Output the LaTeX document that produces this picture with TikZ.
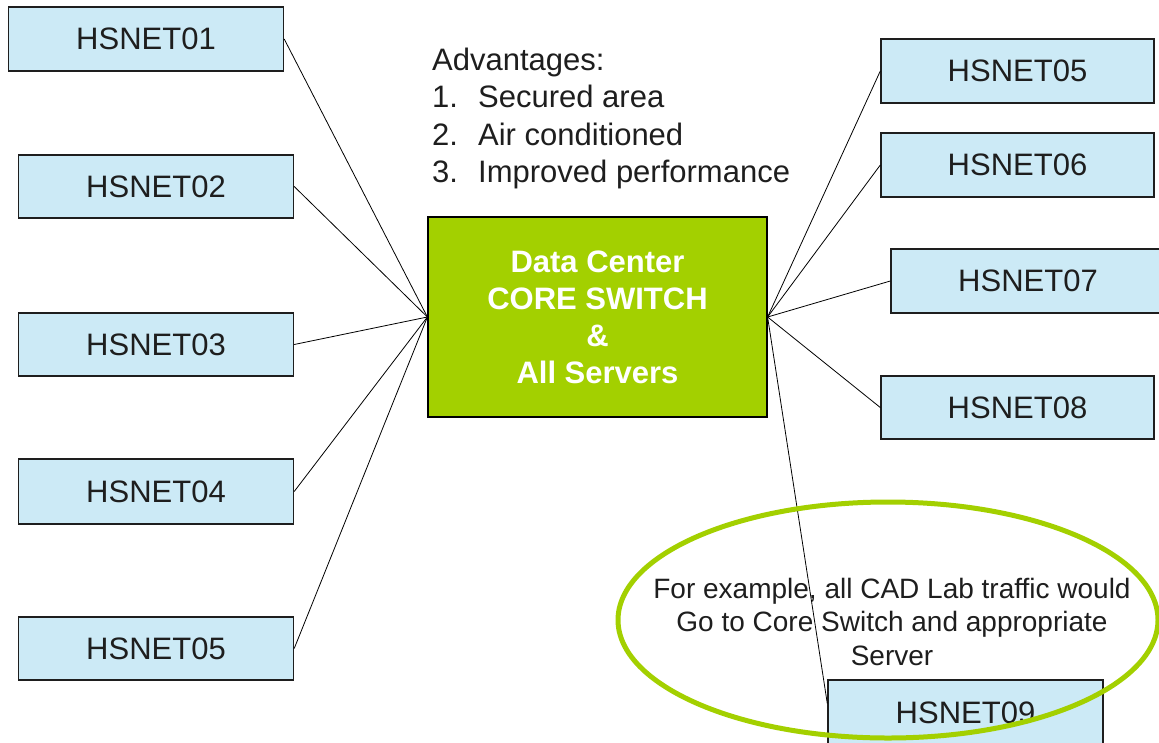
\documentclass[tikz,border=0pt]{standalone}
\usepackage{fontspec}
\setmainfont{Liberation Sans}
\definecolor{netblue}{RGB}{204,234,246}
\definecolor{coregreen}{RGB}{163,208,0}
\definecolor{inkgray}{RGB}{30,30,30}
\tikzset{
  netbox/.style={draw=inkgray, line width=1.4pt, fill=netblue, inner sep=0pt,
    minimum width=275pt, minimum height=64pt, text=inkgray,
    font=\fontsize{31}{31}\selectfont},
  corebox/.style={draw=black, line width=1.2pt, fill=coregreen, inner sep=0pt,
    minimum width=339pt, minimum height=200pt, text=white, align=center,
    font=\fontsize{31}{37}\selectfont\bfseries},
  link/.style={draw=black, line width=0.8pt},
  note/.style={inner sep=0pt, text=inkgray}
}
\begin{document}
\begin{tikzpicture}[x=1pt,y=-1pt]
\useasboundingbox (0,0) rectangle (1159,742);

% access switches on the left
\node[netbox] (n1) at (146,39) {HSNET01};
\node[netbox, minimum height=63pt] (n2) at (156,186.5) {HSNET02};
\node[netbox, minimum height=63pt] (n3) at (156,344.5) {HSNET03};
\node[netbox, minimum height=65pt] (n4) at (156,491.5) {HSNET04};
\node[netbox, minimum height=63pt] (n5l) at (156,648.5) {HSNET05};

% access switches on the right
\node[netbox, minimum width=273pt] (r5) at (1017.5,71) {HSNET05};
\node[netbox, minimum width=273pt] (r6) at (1017.5,165) {HSNET06};
\node[netbox, minimum width=274pt] (r7) at (1028,281) {HSNET07};
\node[netbox, minimum width=273pt, minimum height=63pt] (r8) at (1017.5,407.5) {HSNET08};
\node[netbox, minimum height=65pt] (n9) at (965.5,712.5) {HSNET09};

% data center
\node[corebox] (core) at (597.5,317) {Data Center\\CORE SWITCH\\\&\\All Servers};

% links to the core switch
\foreach \n in {n1,n2,n3,n4,n5l}
  \draw[link] (\n.east) -- (core.west);
\foreach \n in {r5,r6,r7,r8}
  \draw[link] (core.east) -- (\n.west);
\draw[link] (core.east) -- ([yshift=9pt]n9.west);

% list of advantages
\node[note, anchor=west, align=left, font=\fontsize{31}{37.5}\selectfont]
  (adv) at (432,118.6)
  {Advantages:\\
   \makebox[46pt][l]{1.}Secured area\\
   \makebox[46pt][l]{2.}Air conditioned\\
   \makebox[46pt][l]{3.}Improved performance};

% highlighted example
\node[note, align=center, font=\fontsize{28}{33.5}\selectfont] (ex) at (892,621.5)
  {For example, all CAD Lab traffic would\\
   Go to Core Switch and appropriate\\
   Server};
\draw[coregreen, line width=5pt] (888,620) ellipse [x radius=270pt, y radius=118pt];
\end{tikzpicture}
\end{document}
